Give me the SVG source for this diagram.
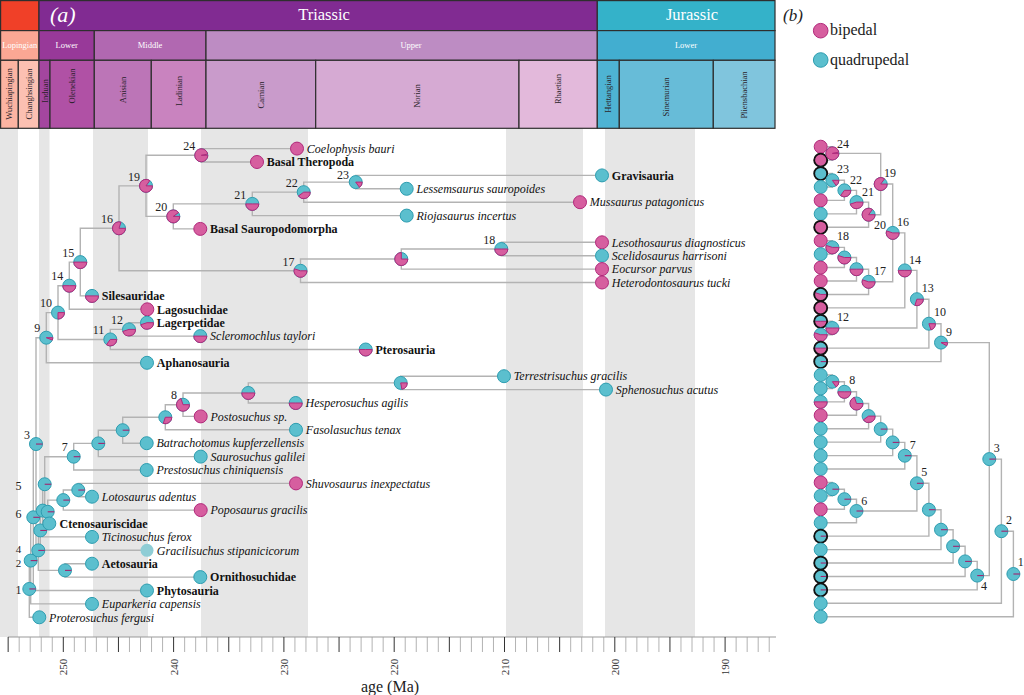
<svg xmlns="http://www.w3.org/2000/svg" width="1024" height="695" viewBox="0 0 1024 695">
<style>
text{font-family:"Liberation Serif","Times New Roman",serif}
.hb{stroke:#2e2e2e;stroke-width:1.2}
.per{fill:#fff;font-size:16.5px;text-anchor:middle}
.ep{fill:#fff;font-size:8.5px;text-anchor:middle}
.st{fill:#2a1f2a;font-size:8.5px;text-anchor:middle}
.band{fill:#e6e6e6}
.br{fill:none;stroke:#b3b3b3;stroke-width:1.4}
.cy{fill:#5bbfce;stroke:#2e9db0;stroke-width:1}
.pk{fill:#d65e9f;stroke:#b1297b;stroke-width:1}
.tk{fill:none;stroke:#a0246f;stroke-width:1.1}
.bk{fill:none;stroke:#111;stroke-width:1.8}
.tl{font-size:12px;fill:#111}
.i{font-style:italic}
.b{font-weight:bold}
.nl{font-size:12px;fill:#222;text-anchor:end}
.nm{font-size:12px;fill:#222;text-anchor:middle}
.ns{font-size:11px;fill:#222;text-anchor:middle}
.nb{font-size:12px;fill:#222}
.mt{stroke:#a0a0a0;stroke-width:.8;fill:none}
.mj{stroke:#333;stroke-width:1;fill:none}
.ax{font-size:11px;fill:#333;text-anchor:middle}
</style>
<defs>
<g id="pq"><circle r="6.5" class="cy"/></g>
<g id="pb"><circle r="6.5" class="pk"/></g>
<g id="pt"><circle r="6.5" class="cy"/><path class="tk" d="M0 0H6.5"/></g>
<g id="p06"><circle r="6.5" class="cy"/><path class="pk" d="M0 0H6.5A6.5 6.5 0 0 1 6.044 2.393Z"/></g>
<g id="p08"><circle r="6.5" class="cy"/><path class="pk" d="M0 0H6.5A6.5 6.5 0 0 1 5.694 3.132Z"/></g>
<g id="p15"><circle r="6.5" class="cy"/><path class="pk" d="M0 0H6.5A6.5 6.5 0 0 1 3.821 5.259Z"/></g>
<g id="p20"><circle r="6.5" class="cy"/><path class="pk" d="M0 0H6.5A6.5 6.5 0 0 1 2.009 6.182Z"/></g>
<g id="p22"><circle r="6.5" class="cy"/><path class="pk" d="M0 0H6.5A6.5 6.5 0 0 1 1.218 6.385Z"/></g>
<g id="p25"><circle r="6.5" class="cy"/><path class="pk" d="M0 0H6.5A6.5 6.5 0 0 1 0 6.5Z"/></g>
<g id="p30"><circle r="6.5" class="cy"/><path class="pk" d="M0 0H6.5A6.5 6.5 0 0 1 -2.009 6.182Z"/></g>
<g id="p35"><circle r="6.5" class="cy"/><path class="pk" d="M0 0H6.5A6.5 6.5 0 0 1 -3.821 5.259Z"/></g>
<g id="p40"><circle r="6.5" class="cy"/><path class="pk" d="M0 0H6.5A6.5 6.5 0 0 1 -5.259 3.821Z"/></g>
<g id="p45"><circle r="6.5" class="cy"/><path class="pk" d="M0 0H6.5A6.5 6.5 0 0 1 -6.182 2.009Z"/></g>
<g id="p50"><circle r="6.5" class="cy"/><path class="pk" d="M0 0H6.5A6.5 6.5 0 0 1 -6.5 0Z"/></g>
<g id="p55"><circle r="6.5" class="cy"/><path class="pk" d="M0 0H6.5A6.5 6.5 0 1 1 -6.182 -2.009Z"/></g>
<g id="p70"><circle r="6.5" class="cy"/><path class="pk" d="M0 0H6.5A6.5 6.5 0 1 1 -2.009 -6.182Z"/></g>
<g id="p75"><circle r="6.5" class="cy"/><path class="pk" d="M0 0H6.5A6.5 6.5 0 1 1 0 -6.5Z"/></g>
<g id="p80"><circle r="6.5" class="cy"/><path class="pk" d="M0 0H6.5A6.5 6.5 0 1 1 2.009 -6.182Z"/></g>
<g id="p85"><circle r="6.5" class="cy"/><path class="pk" d="M0 0H6.5A6.5 6.5 0 1 1 3.821 -5.259Z"/></g>
<g id="p90"><circle r="6.5" class="cy"/><path class="pk" d="M0 0H6.5A6.5 6.5 0 1 1 5.259 -3.821Z"/></g>
<g id="p97"><circle r="6.5" class="cy"/><path class="pk" d="M0 0H6.5A6.5 6.5 0 1 1 6.385 -1.218Z"/></g>
<circle id="bk" r="6.5" class="bk"/>
</defs>

<rect width="1024" height="695" fill="#fff"/>

<g id="bands">
<rect class="band" x="0" y="129" width="18" height="508"/>
<rect class="band" x="39" y="129" width="10.5" height="508"/>
<rect class="band" x="93" y="129" width="55" height="508"/>
<rect class="band" x="201" y="129" width="107" height="508"/>
<rect class="band" x="506" y="129" width="77" height="508"/>
<rect class="band" x="605" y="129" width="90" height="508"/>
</g>

<g id="timescale">
<rect class="hb" x="0.6" y="0.6" width="38.4" height="30" fill="#f04028"/>
<rect class="hb" x="39" y="0.6" width="558.3" height="30" fill="#812b92"/>
<rect class="hb" x="597.3" y="0.6" width="177.7" height="30" fill="#34b2c9"/>
<text x="50" y="22" fill="#fff" font-size="22" font-style="italic">(a)</text>
<text class="per" x="324" y="19.5">Triassic</text>
<text class="per" x="692" y="19.5">Jurassic</text>
<rect class="hb" x="0.6" y="30.6" width="38.4" height="29.7" fill="#fba794"/>
<rect class="hb" x="39" y="30.6" width="55.3" height="29.7" fill="#983999"/>
<rect class="hb" x="94.3" y="30.6" width="111.7" height="29.7" fill="#b168b1"/>
<rect class="hb" x="206" y="30.6" width="391.3" height="29.7" fill="#bd8cc3"/>
<rect class="hb" x="597.3" y="30.6" width="177.7" height="29.7" fill="#42aed0"/>
<text class="ep" x="19.8" y="48">Lopingian</text>
<text class="ep" x="66.7" y="48">Lower</text>
<text class="ep" x="150" y="48">Middle</text>
<text class="ep" x="411" y="48">Upper</text>
<text class="ep" x="686" y="48">Lower</text>
<rect class="hb" x="0.6" y="60.3" width="17.7" height="68" fill="#fcb4a2"/>
<rect class="hb" x="18.3" y="60.3" width="20.7" height="68" fill="#fcc0b2"/>
<rect class="hb" x="39" y="60.3" width="11" height="68" fill="#a4469f"/>
<rect class="hb" x="50" y="60.3" width="44.3" height="68" fill="#b051a5"/>
<rect class="hb" x="94.3" y="60.3" width="57" height="68" fill="#bc75b7"/>
<rect class="hb" x="151.3" y="60.3" width="54.7" height="68" fill="#c983bf"/>
<rect class="hb" x="206" y="60.3" width="109.7" height="68" fill="#c99bcb"/>
<rect class="hb" x="315.7" y="60.3" width="203.3" height="68" fill="#d6aad3"/>
<rect class="hb" x="519" y="60.3" width="78.3" height="68" fill="#e3b9db"/>
<rect class="hb" x="597.3" y="60.3" width="22" height="68" fill="#4eb3d3"/>
<rect class="hb" x="619.3" y="60.3" width="94" height="68" fill="#67bcd8"/>
<rect class="hb" x="713.3" y="60.3" width="61.7" height="68" fill="#80c5dd"/>
<text class="st" transform="translate(9.2,94) rotate(-90)" dy="3">Wuchiapingian</text>
<text class="st" transform="translate(28.7,94) rotate(-90)" dy="3">Changhsingian</text>
<text class="st" transform="translate(44.5,91) rotate(-90)" dy="3">Induan</text>
<text class="st" transform="translate(72,86) rotate(-90)" dy="3">Olenekian</text>
<text class="st" transform="translate(122.8,90) rotate(-90)" dy="3">Anisian</text>
<text class="st" transform="translate(178.7,91) rotate(-90)" dy="3">Ladinian</text>
<text class="st" transform="translate(261,95) rotate(-90)" dy="3">Carnian</text>
<text class="st" transform="translate(417.3,96) rotate(-90)" dy="3">Norian</text>
<text class="st" transform="translate(558,89) rotate(-90)" dy="3">Rhaetian</text>
<text class="st" transform="translate(608.3,94) rotate(-90)" dy="3">Hettangian</text>
<text class="st" transform="translate(666.3,97) rotate(-90)" dy="3">Sinemurian</text>
<text class="st" transform="translate(744,95) rotate(-90)" dy="3">Pliensbachian</text>
</g>

<g id="connectors">
<path class="br" d="M297 148.6H201.3V162H257M602 175.4H355.7V188.8H406.7M355.7 182.1H303.7V202.2H580M303.7 192.15H252.3V215.6H406.7M252.3 203.9H173.3V228.9H200.3M201.3 155.3H146V216.4H173.3M602 242.3H501.3V255.7H602M501.3 249H401.3V269.1H602M401.3 259.05H300.5V282.5H602M146 185.85H119V270.8H300.5M119 228.3H80.3V295.9H92M80.3 262.1H69.3V309.3H147.3M147 322.7H129V336.1H200.3M129 329.4H110.3V349.5H365.7M69.3 285.7H58V339.45H110.3M58 312.6H46.3V362.8H147"/>
<path class="br" d="M504 376.2H400.7V389.6H606M400.7 382.9H248.3V403H295.7M248.3 392.95H183V416.4H200.7M183 404.7H165.3V429.8H296M165.3 417.25H122.7V443.2H146.7M122.7 430.2H98.3V456.6H200.7M98.3 443.4H73.7V470H146.7M296 483.4H78.3V496.7H92M78.3 490.05H63.3V510.1H200.7M63.3 500.1H47.7V523.5H49.3M73.7 456.7H44.7V511.8H47.7M44.7 484.25H42.7V536.9H92M42.7 510.6H40.3V550.3H147M92 563.7H65V577.1H200.3M40.3 530.45H38.3V570.4H65M46.3 337.7H36V550.4H38.3M36 444.05H33.3V590.5H147M33.3 517.3H30.7V603.9H92M30.7 560.6H29.3V617.3H39.3"/>
<path class="br" d="M820.7 146.7H832.4V160.13H820.7M820.7 173.56H832.4V186.99H820.7M832.4 180.3H844.4V200.42H820.7M844.4 190.35H856.5V213.85H820.7M856.5 202.1H868.6V227.28H820.7M832.4 153.4H880.7V214.7H868.6M820.7 240.71H832.4V254.14H820.7M832.4 247.4H844.4V267.57H820.7M844.4 257.5H856.5V281H820.7M856.5 269.2H868.6V294.43H820.7M880.7 184.05H892.7V281.8H868.6M892.7 232.9H904.8V307.86H820.7M820.7 321.29H832.4V334.72H820.7M904.8 270.4H916.9V328H832.4M916.9 299.2H928.9V348.15H820.7M928.9 323.7H941V361.58H820.7"/>
<path class="br" d="M820.7 375.01H832.4V388.44H820.7M832.4 381.7H844.4V401.87H820.7M844.4 391.8H856.5V415.3H820.7M856.5 403.5H868.6V428.73H820.7M868.6 416.1H880.7V442.16H820.7M880.7 429.1H892.7V455.59H820.7M892.7 442.4H904.8V469.02H820.7M820.7 482.45H832.4V495.88H820.7M832.4 489.2H844.4V509.31H820.7M844.4 499.2H856.5V522.74H820.7M904.8 455.7H916.9V511H856.5M916.9 483.3H928.9V536.17H820.7M928.9 509.7H941V549.6H820.7M941 529.7H953.1V563.03H820.7M953.1 546.3H965.1V576.46H820.7M965.1 561.4H977.2V589.89H820.7M941 342.6H989.3V575.6H977.2M989.3 459.1H1001.4V603.32H820.7M1001.4 531.2H1013.4V616.75H820.7"/>
</g>

<g id="panel-a-nodes">
<g id="a-n24"><use href="#p97" x="201.3" y="155.3"/><text class="nl" x="195.3" y="150">24</text></g>
<g id="a-n23"><use href="#p15" x="355.7" y="182.1"/><text class="nl" x="349" y="178.5">23</text></g>
<g id="a-n22"><use href="#p40" x="303.7" y="192.15"/><text class="nl" x="297.7" y="186.9">22</text></g>
<g id="a-n21"><use href="#p50" x="252.3" y="203.9"/><text class="nl" x="246.3" y="198.6">21</text></g>
<g id="a-n20"><use href="#p90" x="173.3" y="216.4"/><text class="nl" x="167.3" y="211.1">20</text></g>
<g id="a-n19"><use href="#p85" x="146" y="185.85"/><text class="nl" x="140" y="180.6">19</text></g>
<g id="a-n18"><use href="#p50" x="501.3" y="249"/><text class="nl" x="495.3" y="243.7">18</text></g>
<g id="a-nu1"><use href="#p75" x="401.3" y="259.05"/></g>
<g id="a-n17"><use href="#p55" x="300.5" y="270.8"/><text class="nl" x="294.5" y="265.5">17</text></g>
<g id="a-n16"><use href="#p80" x="119" y="228.3"/><text class="nl" x="113" y="223">16</text></g>
<g id="a-n15"><use href="#p50" x="80.3" y="262.1"/><text class="nl" x="74.3" y="256.8">15</text></g>
<g id="a-n14"><use href="#p50" x="69.3" y="285.7"/><text class="nl" x="63.3" y="280.4">14</text></g>
<g id="a-n12"><use href="#p45" x="129" y="329.4"/><text class="nl" x="123" y="324.1">12</text></g>
<g id="a-n11"><use href="#p35" x="110.3" y="339.45"/><text class="nl" x="104.3" y="334.2">11</text></g>
<g id="a-n10"><use href="#p25" x="58" y="312.6"/><text class="nl" x="52" y="307.3">10</text></g>
<g id="a-n9"><use href="#p06" x="46.3" y="337.7"/><text class="nl" x="40.3" y="332.4">9</text></g>
<g id="a-nts"><use href="#p22" x="400.7" y="382.9"/></g>
<g id="a-nhes"><use href="#p50" x="248.3" y="392.95"/></g>
<g id="a-n8"><use href="#p70" x="183" y="404.7"/><text class="nl" x="177" y="399.4">8</text></g>
<g id="a-nfas"><use href="#p30" x="165.3" y="417.25"/></g>
<g id="a-nbat"><use href="#pt" x="122.7" y="430.2"/></g>
<g id="a-nsau"><use href="#pt" x="98.3" y="443.4"/></g>
<g id="a-n7"><use href="#pt" x="73.7" y="456.7"/><text class="nl" x="67.7" y="451.4">7</text></g>
<g id="a-nshu"><use href="#pt" x="78.3" y="490.05"/></g>
<g id="a-npop"><use href="#pt" x="63.3" y="500.1"/></g>
<g id="a-n3"><use href="#pt" x="36" y="444.05"/><text class="nl" x="30" y="439">3</text></g>
<g id="a-nx"><use href="#pt" x="33.3" y="517.3"/></g>
<g id="a-n2"><use href="#pt" x="30.7" y="560.6"/><text class="ns" x="18.5" y="566.8">2</text></g>
<g id="a-n1"><use href="#pt" x="29.3" y="588.95"/><text class="nm" x="18.5" y="594.3">1</text></g>
<g id="a-n4"><use href="#pt" x="38.3" y="550.4"/><text class="ns" x="18.5" y="553">4</text></g>
<g id="a-nh10"><use href="#pt" x="40.3" y="530.45"/></g>
<g id="a-nh9"><use href="#pt" x="42.7" y="510.6"/></g>
<g id="a-n5"><use href="#pt" x="44.7" y="484.25"/><text class="nm" x="18.5" y="490.3">5</text></g>
<g id="a-n6"><use href="#pt" x="47.7" y="511.8"/><text class="nm" x="18.5" y="517.6">6</text></g>
<g id="a-naet"><use href="#pt" x="65" y="570.4"/></g>
</g>

<g id="panel-a-tips">
<g id="t-coelophysis"><use href="#pb" x="297" y="148.6"/><text class="tl i" x="306.8" y="152.8">Coelophysis bauri</text></g>
<g id="t-theropoda"><use href="#pb" x="257" y="162"/><text class="tl b" x="266.8" y="166.2">Basal Theropoda</text></g>
<g id="t-gravisauria"><use href="#pq" x="602" y="175.4"/><text class="tl b" x="611.8" y="179.6">Gravisauria</text></g>
<g id="t-lessemsaurus"><use href="#pq" x="406.7" y="188.8"/><text class="tl i" x="416.5" y="193">Lessemsaurus sauropoides</text></g>
<g id="t-mussaurus"><use href="#pb" x="580" y="202.2"/><text class="tl i" x="589.8" y="206.4">Mussaurus patagonicus</text></g>
<g id="t-riojasaurus"><use href="#pq" x="406.7" y="215.6"/><text class="tl i" x="416.5" y="219.8">Riojasaurus incertus</text></g>
<g id="t-sauropodomorpha"><use href="#pb" x="200.3" y="228.9"/><text class="tl b" x="210.1" y="233.1">Basal Sauropodomorpha</text></g>
<g id="t-lesothosaurus"><use href="#pb" x="602" y="242.3"/><text class="tl i" x="611.8" y="246.5">Lesothosaurus diagnosticus</text></g>
<g id="t-scelidosaurus"><use href="#pq" x="602" y="255.7"/><text class="tl i" x="611.8" y="259.9">Scelidosaurus harrisoni</text></g>
<g id="t-eocursor"><use href="#pb" x="602" y="269.1"/><text class="tl i" x="611.8" y="273.3">Eocursor parvus</text></g>
<g id="t-heterodontosaurus"><use href="#pb" x="602" y="282.5"/><text class="tl i" x="611.8" y="286.7">Heterodontosaurus tucki</text></g>
<g id="t-silesauridae"><use href="#p50" x="92" y="295.9"/><text class="tl b" x="101.8" y="300.1">Silesauridae</text></g>
<g id="t-lagosuchidae"><use href="#pb" x="147.3" y="309.3"/><text class="tl b" x="157.1" y="313.5">Lagosuchidae</text></g>
<g id="t-lagerpetidae"><use href="#p45" x="147" y="322.7"/><text class="tl b" x="156.8" y="326.9">Lagerpetidae</text></g>
<g id="t-scleromochlus"><use href="#p50" x="200.3" y="336.1"/><text class="tl i" x="210.1" y="340.3">Scleromochlus taylori</text></g>
<g id="t-pterosauria"><use href="#p50" x="365.7" y="349.5"/><text class="tl b" x="375.5" y="353.7">Pterosauria</text></g>
<g id="t-aphanosauria"><use href="#pq" x="147" y="362.8"/><text class="tl b" x="156.8" y="367">Aphanosauria</text></g>
<g id="t-terrestrisuchus"><use href="#pq" x="504" y="376.2"/><text class="tl i" x="513.8" y="380.4">Terrestrisuchus gracilis</text></g>
<g id="t-sphenosuchus"><use href="#pq" x="606" y="389.6"/><text class="tl i" x="615.8" y="393.8">Sphenosuchus acutus</text></g>
<g id="t-hesperosuchus"><use href="#p50" x="295.7" y="403"/><text class="tl i" x="305.5" y="407.2">Hesperosuchus agilis</text></g>
<g id="t-postosuchus"><use href="#pb" x="200.7" y="416.4"/><text class="tl i" x="210.5" y="420.6">Postosuchus sp.</text></g>
<g id="t-fasolasuchus"><use href="#pq" x="296" y="429.8"/><text class="tl i" x="305.8" y="434">Fasolasuchus tenax</text></g>
<g id="t-batrachotomus"><use href="#pq" x="146.7" y="443.2"/><text class="tl i" x="156.5" y="447.4">Batrachotomus kupferzellensis</text></g>
<g id="t-saurosuchus"><use href="#pq" x="200.7" y="456.6"/><text class="tl i" x="210.5" y="460.8">Saurosuchus galilei</text></g>
<g id="t-prestosuchus"><use href="#pq" x="146.7" y="470"/><text class="tl i" x="156.5" y="474.2">Prestosuchus chiniquensis</text></g>
<g id="t-shuvosaurus"><use href="#pb" x="296" y="483.4"/><text class="tl i" x="305.8" y="487.6">Shuvosaurus inexpectatus</text></g>
<g id="t-lotosaurus"><use href="#pq" x="92" y="496.7"/><text class="tl i" x="101.8" y="500.9">Lotosaurus adentus</text></g>
<g id="t-poposaurus"><use href="#pb" x="200.7" y="510.1"/><text class="tl i" x="210.5" y="514.3">Poposaurus gracilis</text></g>
<g id="t-ctenosauriscidae"><use href="#pq" x="49.3" y="523.5"/><text class="tl b" x="59.6" y="527.7">Ctenosauriscidae</text></g>
<g id="t-ticinosuchus"><use href="#pq" x="92" y="536.9"/><text class="tl i" x="101.8" y="541.1">Ticinosuchus ferox</text></g>
<g id="t-gracilisuchus"><circle cx="147" cy="550.3" r="6.5" fill="#8fcdd5"/><text class="tl i" x="156.8" y="554.5">Gracilisuchus stipanicicorum</text></g>
<g id="t-aetosauria"><use href="#pq" x="92" y="563.7"/><text class="tl b" x="101.8" y="567.9">Aetosauria</text></g>
<g id="t-ornithosuchidae"><use href="#pq" x="200.3" y="577.1"/><text class="tl b" x="210.1" y="581.3">Ornithosuchidae</text></g>
<g id="t-phytosauria"><use href="#pq" x="147" y="590.5"/><text class="tl b" x="156.8" y="594.7">Phytosauria</text></g>
<g id="t-euparkeria"><use href="#pq" x="92" y="603.9"/><text class="tl i" x="101.8" y="608.1">Euparkeria capensis</text></g>
<g id="t-proterosuchus"><use href="#pq" x="39.3" y="617.3"/><text class="tl i" x="49.1" y="621.5">Proterosuchus fergusi</text></g>
</g>

<g id="axis">
<path d="M8 637H776" stroke="#999" stroke-width="1" fill="none"/>
<path class="mt" d="M19.18 637v15M30.21 637v15M41.24 637v15M52.27 637v15M74.33 637v15M85.36 637v15M96.39 637v15M107.42 637v15M129.48 637v15M140.51 637v15M151.54 637v15M162.57 637v15M184.63 637v15M195.66 637v15M206.69 637v15M217.72 637v15M239.78 637v15M250.81 637v15M261.84 637v15M272.87 637v15M294.93 637v15M305.96 637v15M316.99 637v15M328.02 637v15M350.08 637v15M361.11 637v15M372.14 637v15M383.17 637v15M405.23 637v15M416.26 637v15M427.29 637v15M438.32 637v15M460.38 637v15M471.41 637v15M482.44 637v15M493.47 637v15M515.53 637v15M526.56 637v15M537.59 637v15M548.62 637v15M570.68 637v15M581.71 637v15M592.74 637v15M603.77 637v15M625.83 637v15M636.86 637v15M647.89 637v15M658.92 637v15M680.98 637v15M692.01 637v15M703.04 637v15M714.07 637v15M736.13 637v15M747.16 637v15M758.19 637v15M769.22 637v15"/>
<path class="mj" d="M8.15 637v15M63.3 637v15M118.45 637v15M173.6 637v15M228.75 637v15M283.9 637v15M339.05 637v15M394.2 637v15M449.35 637v15M504.5 637v15M559.65 637v15M614.8 637v15M669.95 637v15M725.1 637v15"/>
<text class="ax" transform="translate(63.3,667) rotate(-90)" dy="4">250</text>
<text class="ax" transform="translate(173.6,667) rotate(-90)" dy="4">240</text>
<text class="ax" transform="translate(283.9,667) rotate(-90)" dy="4">230</text>
<text class="ax" transform="translate(394.2,667) rotate(-90)" dy="4">220</text>
<text class="ax" transform="translate(504.5,667) rotate(-90)" dy="4">210</text>
<text class="ax" transform="translate(614.8,667) rotate(-90)" dy="4">200</text>
<text class="ax" transform="translate(725.1,667) rotate(-90)" dy="4">190</text>
<text x="390" y="692" font-size="16" fill="#222" text-anchor="middle">age (Ma)</text>
</g>

<g id="legend">
<text x="783" y="21" font-size="17" font-style="italic" fill="#222">(b)</text>
<circle cx="820.7" cy="30.7" r="7.3" class="pk"/>
<text x="830" y="35" font-size="16" fill="#222">bipedal</text>
<circle cx="820.7" cy="60" r="7.3" class="cy"/>
<text x="830" y="64.5" font-size="16" fill="#222">quadrupedal</text>
</g>

<g id="panel-b-tips">
<use href="#pb" x="820.7" y="146.7"/>
<use href="#pb" x="820.7" y="160.13"/><use href="#bk" x="820.7" y="160.13"/>
<use href="#pq" x="820.7" y="173.56"/><use href="#bk" x="820.7" y="173.56"/>
<use href="#pq" x="820.7" y="186.99"/>
<use href="#pb" x="820.7" y="200.42"/>
<use href="#pq" x="820.7" y="213.85"/>
<use href="#pb" x="820.7" y="227.28"/><use href="#bk" x="820.7" y="227.28"/>
<use href="#pb" x="820.7" y="240.71"/>
<use href="#pq" x="820.7" y="254.14"/>
<use href="#pb" x="820.7" y="267.57"/>
<use href="#pb" x="820.7" y="281"/>
<use href="#p55" x="820.7" y="294.43"/><use href="#bk" x="820.7" y="294.43"/>
<use href="#pb" x="820.7" y="307.86"/><use href="#bk" x="820.7" y="307.86"/>
<use href="#p50" x="820.7" y="321.29"/><use href="#bk" x="820.7" y="321.29"/>
<use href="#p55" x="820.7" y="334.72"/>
<use href="#p50" x="820.7" y="348.15"/><use href="#bk" x="820.7" y="348.15"/>
<use href="#pt" x="820.7" y="361.58"/><use href="#bk" x="820.7" y="361.58"/>
<use href="#pq" x="820.7" y="375.01"/>
<use href="#pq" x="820.7" y="388.44"/>
<use href="#p50" x="820.7" y="401.87"/>
<use href="#pb" x="820.7" y="415.3"/>
<use href="#pq" x="820.7" y="428.73"/>
<use href="#pq" x="820.7" y="442.16"/>
<use href="#pq" x="820.7" y="455.59"/>
<use href="#pq" x="820.7" y="469.02"/>
<use href="#pb" x="820.7" y="482.45"/>
<use href="#pq" x="820.7" y="495.88"/>
<use href="#pb" x="820.7" y="509.31"/>
<use href="#pq" x="820.7" y="522.74"/>
<use href="#pt" x="820.7" y="536.17"/><use href="#bk" x="820.7" y="536.17"/>
<use href="#pq" x="820.7" y="549.6"/>
<use href="#pt" x="820.7" y="563.03"/><use href="#bk" x="820.7" y="563.03"/>
<use href="#pt" x="820.7" y="576.46"/><use href="#bk" x="820.7" y="576.46"/>
<use href="#pt" x="820.7" y="589.89"/><use href="#bk" x="820.7" y="589.89"/>
<use href="#pq" x="820.7" y="603.32"/>
<use href="#pq" x="820.7" y="616.75"/>
</g>

<g id="panel-b-nodes">
<g id="b-n24"><use href="#p97" x="832.4" y="153.4"/><text class="nb" x="837" y="147.5">24</text></g>
<g id="b-n23"><use href="#p15" x="832.4" y="180.3"/><text class="nb" x="837" y="172.5">23</text></g>
<g id="b-n22"><use href="#p35" x="844.4" y="190.35"/><text class="nb" x="850" y="184">22</text></g>
<g id="b-n21"><use href="#p45" x="856.5" y="202.1"/><text class="nb" x="862" y="195.5">21</text></g>
<g id="b-n20"><use href="#p85" x="868.6" y="214.7"/><text class="nb" x="874" y="228.8">20</text></g>
<g id="b-n19"><use href="#p85" x="880.7" y="184.05"/><text class="nb" x="884" y="176.5">19</text></g>
<g id="b-n18"><use href="#p55" x="832.4" y="247.4"/><text class="nb" x="837" y="240">18</text></g>
<g id="b-nu1"><use href="#p55" x="844.4" y="257.5"/></g>
<g id="b-nu2"><use href="#p50" x="856.5" y="269.2"/></g>
<g id="b-n17"><use href="#p55" x="868.6" y="281.8"/><text class="nb" x="874" y="274.5">17</text></g>
<g id="b-n16"><use href="#p55" x="892.7" y="232.9"/><text class="nb" x="897" y="225.5">16</text></g>
<g id="b-n14"><use href="#p50" x="904.8" y="270.4"/><text class="nb" x="909" y="263.5">14</text></g>
<g id="b-n12"><use href="#p50" x="832.4" y="328"/><text class="nb" x="837" y="321">12</text></g>
<g id="b-n13"><use href="#p30" x="916.9" y="299.2"/><text class="nb" x="921.7" y="292">13</text></g>
<g id="b-n10"><use href="#p20" x="928.9" y="323.7"/><text class="nb" x="934" y="316">10</text></g>
<g id="b-n9"><use href="#p08" x="941" y="342.6"/><text class="nb" x="946" y="335.5">9</text></g>
<g id="b-nb1"><use href="#p15" x="832.4" y="381.7"/></g>
<g id="b-n8"><use href="#p50" x="844.4" y="391.8"/><text class="nb" x="849.3" y="383.8">8</text></g>
<g id="b-nb3"><use href="#p70" x="856.5" y="403.5"/></g>
<g id="b-nb4"><use href="#p40" x="868.6" y="416.1"/></g>
<g id="b-nb5"><use href="#pt" x="880.7" y="429.1"/></g>
<g id="b-nb6"><use href="#pt" x="892.7" y="442.4"/></g>
<g id="b-n7"><use href="#pt" x="904.8" y="455.7"/><text class="nb" x="909.7" y="448.8">7</text></g>
<g id="b-nc1"><use href="#pt" x="832.4" y="489.2"/></g>
<g id="b-nc2"><use href="#pt" x="844.4" y="499.2"/></g>
<g id="b-n6"><use href="#pt" x="856.5" y="511"/><text class="nb" x="861.3" y="504.5">6</text></g>
<g id="b-n5"><use href="#pt" x="916.9" y="483.3"/><text class="nb" x="921.3" y="476">5</text></g>
<g id="b-nd9"><use href="#pt" x="928.9" y="509.7"/></g>
<g id="b-nd10"><use href="#pt" x="941" y="529.7"/></g>
<g id="b-nd11"><use href="#pt" x="953.1" y="546.3"/></g>
<g id="b-nd12"><use href="#pt" x="965.1" y="561.4"/></g>
<g id="b-n4"><use href="#pt" x="977.2" y="575.6"/><text class="nb" x="981" y="589.5">4</text></g>
<g id="b-n3"><use href="#pt" x="989.3" y="459.1"/><text class="nb" x="993.7" y="452">3</text></g>
<g id="b-n2"><use href="#pt" x="1001.4" y="531.2"/><text class="nb" x="1006" y="523.8">2</text></g>
<g id="b-n1"><use href="#pt" x="1013.4" y="574"/><text class="nb" x="1017.7" y="566">1</text></g>
</g>
</svg>
